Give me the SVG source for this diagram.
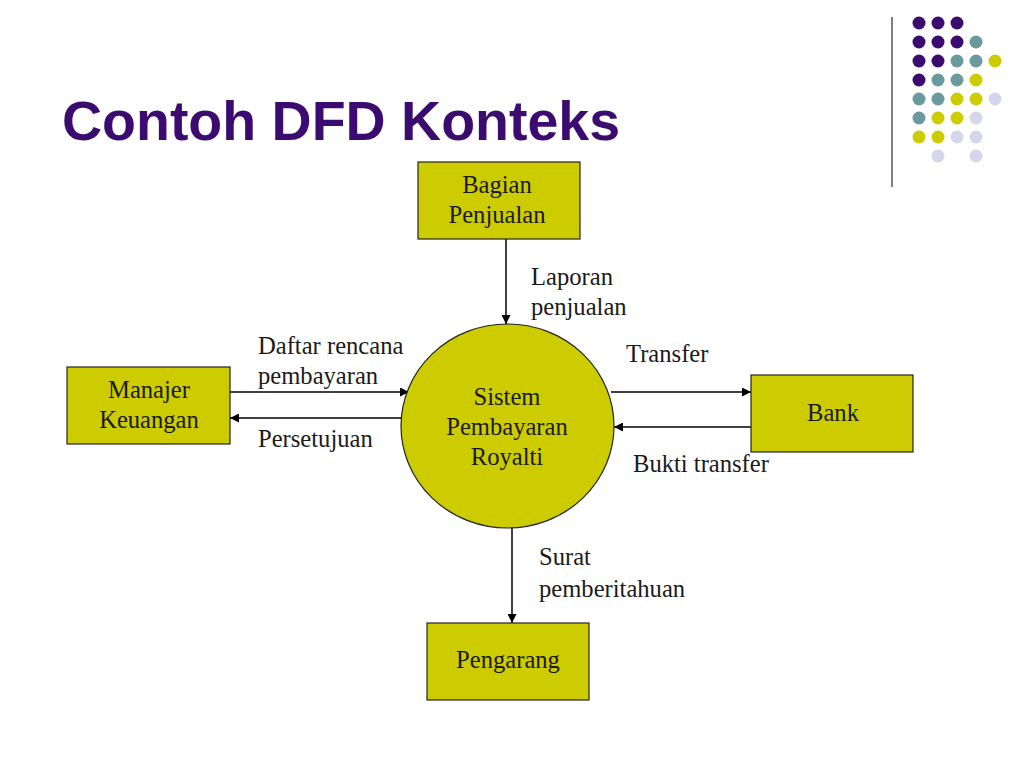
<svg xmlns="http://www.w3.org/2000/svg" width="1024" height="768" viewBox="0 0 1024 768">
<defs>
<style>
.box{fill:#CCCC00;stroke:#222;stroke-width:1.2}
.lbl{font-family:"Liberation Serif","Times New Roman",serif;font-size:24.6px;fill:#1a1a1a}
.mid{text-anchor:middle}
.flow{stroke:#000;stroke-width:1.5;fill:none;marker-end:url(#ah)}
.p{fill:#3B0B70}.t{fill:#6B9A9E}.y{fill:#CCCC00}.l{fill:#D6D6EA}
</style>
<marker id="ah" viewBox="0 0 10 10" refX="10" refY="5" markerWidth="10" markerHeight="9" markerUnits="userSpaceOnUse" orient="auto">
<path d="M0,0 L10,5 L0,10 z" fill="#000"/>
</marker>
</defs>
<rect width="1024" height="768" fill="#fff"/>
<g id="decor">
<line x1="892" y1="17" x2="892" y2="187" stroke="#555" stroke-width="1.5"/>
<g>
<circle class="p" cx="919" cy="23" r="6.5"/><circle class="p" cx="938" cy="23" r="6.5"/><circle class="p" cx="957" cy="23" r="6.5"/>
<circle class="p" cx="919" cy="42" r="6.5"/><circle class="p" cx="938" cy="42" r="6.5"/><circle class="p" cx="957" cy="42" r="6.5"/><circle class="t" cx="976" cy="42" r="6.5"/>
<circle class="p" cx="919" cy="61" r="6.5"/><circle class="p" cx="938" cy="61" r="6.5"/><circle class="t" cx="957" cy="61" r="6.5"/><circle class="t" cx="976" cy="61" r="6.5"/><circle class="y" cx="995" cy="61" r="6.5"/>
<circle class="p" cx="919" cy="80" r="6.5"/><circle class="t" cx="938" cy="80" r="6.5"/><circle class="t" cx="957" cy="80" r="6.5"/><circle class="y" cx="976" cy="80" r="6.5"/>
<circle class="t" cx="919" cy="99" r="6.5"/><circle class="t" cx="938" cy="99" r="6.5"/><circle class="y" cx="957" cy="99" r="6.5"/><circle class="y" cx="976" cy="99" r="6.5"/><circle class="l" cx="995" cy="99" r="6.5"/>
<circle class="t" cx="919" cy="118" r="6.5"/><circle class="y" cx="938" cy="118" r="6.5"/><circle class="y" cx="957" cy="118" r="6.5"/><circle class="l" cx="976" cy="118" r="6.5"/>
<circle class="y" cx="919" cy="137" r="6.5"/><circle class="y" cx="938" cy="137" r="6.5"/><circle class="l" cx="957" cy="137" r="6.5"/><circle class="l" cx="976" cy="137" r="6.5"/>
<circle class="l" cx="938" cy="156" r="6.5"/><circle class="l" cx="976" cy="156" r="6.5"/>
</g>
</g>
<text id="title" x="62" y="140" font-family="'Liberation Sans',Arial,sans-serif" font-weight="bold" font-size="55.5" fill="#3B0B70">Contoh DFD Konteks</text>
<g id="connectors">
<line class="flow" x1="506" y1="239" x2="506" y2="324"/>
<line class="flow" x1="230" y1="392" x2="409" y2="392"/>
<line class="flow" x1="403" y1="418" x2="230" y2="418"/>
<line class="flow" x1="611" y1="392" x2="751" y2="392"/>
<line class="flow" x1="751" y1="427" x2="614" y2="427"/>
<line class="flow" x1="512" y1="527" x2="512" y2="623"/>
<text class="lbl" x="531" y="285">Laporan</text>
<text class="lbl" x="531" y="315">penjualan</text>
<text class="lbl" x="258" y="354">Daftar rencana</text>
<text class="lbl" x="258" y="384">pembayaran</text>
<text class="lbl" x="258" y="447">Persetujuan</text>
<text class="lbl" x="626" y="362">Transfer</text>
<text class="lbl" x="633" y="472">Bukti transfer</text>
<text class="lbl" x="539" y="565">Surat</text>
<text class="lbl" x="539" y="597">pemberitahuan</text>
</g>
<g id="bagian-penjualan">
<rect class="box" x="418" y="162" width="162" height="77"/>
<text class="lbl mid" x="497" y="193">Bagian</text>
<text class="lbl mid" x="497" y="223">Penjualan</text>
</g>
<g id="sistem">
<ellipse class="box" cx="507.5" cy="426" rx="106.5" ry="102"/>
<text class="lbl mid" x="507" y="405">Sistem</text>
<text class="lbl mid" x="507" y="435">Pembayaran</text>
<text class="lbl mid" x="507" y="465">Royalti</text>
</g>
<g id="manajer-keuangan">
<rect class="box" x="67" y="367" width="163" height="77"/>
<text class="lbl mid" x="149" y="398">Manajer</text>
<text class="lbl mid" x="149" y="428">Keuangan</text>
</g>
<g id="bank">
<rect class="box" x="751" y="375" width="162" height="77"/>
<text class="lbl mid" x="833" y="421">Bank</text>
</g>
<g id="pengarang">
<rect class="box" x="427" y="623" width="162" height="77"/>
<text class="lbl mid" x="508" y="668">Pengarang</text>
</g>
</svg>
